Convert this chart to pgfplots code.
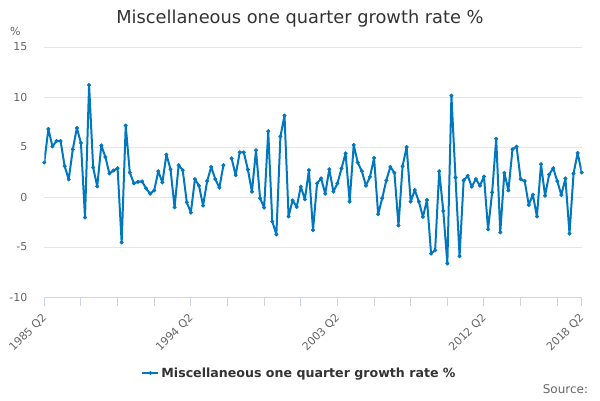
\documentclass[border=0pt]{standalone}
\usepackage{pgfplots}
\pgfplotsset{compat=1.18}
\usepackage{fontspec}
\setmainfont{DejaVu Sans}
\definecolor{lineblue}{RGB}{0,119,190}
\definecolor{axisgray}{HTML}{CCD6EB}
\definecolor{gridgray}{HTML}{E6E6E6}
\definecolor{labelgray}{HTML}{666666}
\definecolor{titlegray}{HTML}{333333}
\begin{document}
\begin{tikzpicture}[x=1pt,y=1pt]
\path[use as bounding box] (0,0) rectangle (600,400);
\begin{axis}[
  at={(44.3pt,103pt)}, anchor=south west,
  scale only axis, width=537.4pt, height=250pt,
  xmin=0, xmax=132, ymin=-10, ymax=15,
  axis x line*=bottom, axis y line*=left,
  y axis line style={draw=none},
  x axis line style={axisgray, line width=1pt},
  ytick={-10,-5,0,5,10,15},
  yticklabels={-10,-5,0,5,10,15},
  ymajorgrids, grid style={gridgray, line width=1pt},
  ytick style={draw=none},
  xtick={0,36,72,108,132},
  xticklabels={1985 Q2,1994 Q2,2003 Q2,2012 Q2,2018 Q2},
  minor xtick={9,18,27,45,54,63,81,90,99,117,126},
  xtick style={axisgray, line width=1pt},
  minor x tick style={axisgray, line width=1pt},
  xtick align=outside, major tick length=9pt, minor tick length=9pt,
  yticklabel style={anchor=east, inner sep=0pt, xshift=-16.8pt, font=\fontsize{11}{13}\selectfont, text=labelgray},
  xticklabel style={xshift=0.5pt, yshift=-10pt, rotate=45, anchor=east, inner sep=0pt, font=\fontsize{11}{13}\selectfont, text=labelgray},
  unbounded coords=jump,
  legend style={at={(0.4749,-0.304)}, anchor=center, draw=none, fill=none, font=\bfseries\fontsize{12.6}{15}\selectfont, text=titlegray, inner sep=0pt},
  legend image code/.code={\draw[#1, mark repeat=2, mark phase=2] plot coordinates {(0pt,0pt)(8pt,0pt)(16pt,0pt)};},
]
\addplot[lineblue, line width=2pt, line join=round, mark=*, mark size=1.8pt, mark options={solid, fill=lineblue, line width=0.5pt}] table[x=x, y=y] {
x y
0 3.45
1 6.8
2 5.06
3 5.6
4 5.6
5 3.08
6 1.76
7 4.77
8 6.9
9 5.4
10 -2.05
11 11.2
12 2.95
13 1.06
14 5.16
15 4.0
16 2.35
17 2.65
18 2.88
19 -4.54
20 7.15
21 2.45
22 1.36
23 1.52
24 1.56
25 0.86
26 0.33
27 0.66
28 2.58
29 1.46
30 4.24
31 2.78
32 -1.03
33 3.18
34 2.68
35 -0.53
36 -1.56
37 1.79
38 1.13
39 -0.86
40 1.59
41 3.01
42 1.79
43 0.93
44 3.18
45 nan
46 3.87
47 2.18
48 4.47
49 4.47
50 2.75
51 0.53
52 4.67
53 -0.13
54 -1.06
55 6.58
56 -2.45
57 -3.74
58 6.06
59 8.14
60 -1.95
61 -0.33
62 -0.99
63 1.03
64 -0.23
65 2.68
66 -3.31
67 1.36
68 1.86
69 0.33
70 2.78
71 0.53
72 1.36
73 2.85
74 4.37
75 -0.46
76 5.2
77 3.44
78 2.58
79 1.13
80 2.02
81 3.91
82 -1.72
83 -0.13
84 1.66
85 3.01
86 2.42
87 -2.85
88 3.08
89 5.0
90 -0.46
91 0.7
92 -0.46
93 -1.99
94 -0.3
95 -5.66
96 -5.33
97 2.58
98 -1.39
99 -6.65
100 10.13
101 1.95
102 -5.92
103 1.66
104 2.12
105 1.03
106 1.79
107 1.13
108 2.05
109 -3.24
110 0.46
111 5.82
112 -3.54
113 2.42
114 0.66
115 4.77
116 5.03
117 1.79
118 1.59
119 -0.8
120 0.23
121 -1.95
122 3.28
123 0.13
124 2.25
125 2.88
126 1.59
127 0.2
128 1.86
129 -3.67
130 2.35
131 4.4
132 2.45
};
\addlegendentry{Miscellaneous one quarter growth rate \%}
\end{axis}
\node[anchor=base, text=titlegray, font=\fontsize{17.8}{21}\selectfont, inner sep=0pt] at (300,376) {Miscellaneous one quarter growth rate \%};
\node[anchor=base west, text=labelgray, font=\fontsize{11}{13}\selectfont, inner sep=0pt] at (10,364.5) {\%};
\node[anchor=base east, text=labelgray, font=\fontsize{12}{14}\selectfont, inner sep=0pt] at (588.3,6.5) {Source:};
\end{tikzpicture}
\end{document}
